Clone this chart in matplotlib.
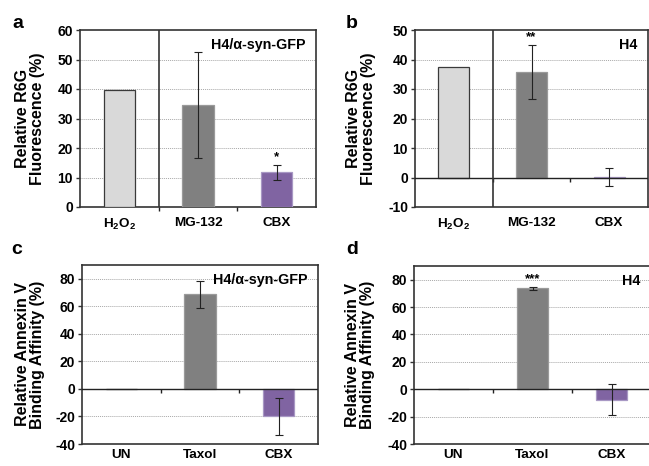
import matplotlib
matplotlib.use('Agg')
import matplotlib.pyplot as plt

plt.rcParams['font.family'] = ['Liberation Sans', 'DejaVu Sans']
plt.rcParams['font.weight'] = 'bold'
plt.rcParams['mathtext.fontset'] = 'custom'
plt.rcParams['mathtext.rm'] = 'Liberation Sans:bold'
plt.rcParams['mathtext.bf'] = 'Liberation Sans:bold'
plt.rcParams['axes.unicode_minus'] = False

# panels a/b: R6G fluorescence
r6g_labels = [r'$\mathrm{H_2O_2}$', 'MG-132', 'CBX']
r6g_syn = [39.5, 34.7, 11.7]
r6g_syn_err = [0, 18.0, 2.6]
r6g_h4 = [37.5, 35.8, 0.2]
r6g_h4_err = [0, 9.2, 3.0]

# panels c/d: annexin V binding
anx_labels = ['UN', 'Taxol', 'CBX']
anx_syn = [0, 68.8, -20.0]
anx_syn_err = [0, 9.7, 13.5]
anx_h4 = [0, 73.8, -7.5]
anx_h4_err = [0, 1.0, 11.2]

colors = ['#D9D9D9', '#808080', '#8064A2']
edges = ['#3A3A3A', '#9A9A9A', '#A898C4']

W, H = 649, 466
fig = plt.figure(figsize=(W / 100, H / 100), dpi=100)


def px_axes(left, top, right, bottom):
    return fig.add_axes([left / W, 1 - bottom / H, (right - left) / W, (bottom - top) / H])


def panel(ax, labels, vals, errs, ylim, step, tag, letter, letter_xy, stars,
          divider, label_pad, ylabel, ylabel_x):
    x = range(len(vals))
    ax.bar(x, vals, width=0.4, color=colors, edgecolor=edges, linewidth=0.9, zorder=3)
    err_x = [i for i in x if errs[i] > 0]
    ax.errorbar(err_x, [vals[i] for i in err_x], yerr=[errs[i] for i in err_x],
                fmt='none', ecolor='#222222', elinewidth=0.8, capsize=3,
                capthick=0.8, zorder=4)
    ax.set_xlim(-0.5, 2.5)
    ax.set_ylim(*ylim)
    ticks = list(range(ylim[0], ylim[1] + 1, step))
    ax.set_yticks(ticks)
    for t in ticks:
        if ylim[0] < t < ylim[1] and t != 0:
            ax.axhline(t, color='#A8A8A8', linestyle=(0, (1, 1)), linewidth=0.7, zorder=1)
    if ylim[0] < 0:
        ax.axhline(0, color='#222222', linewidth=1.0, zorder=5)
    # small category-boundary ticks on the value-zero axis
    tick_len = 4 * (ylim[1] - ylim[0]) / (ax.get_position().height * H)
    ax.vlines([0.5, 1.5], 0, -tick_len, color='#222222', linewidth=1.0, zorder=5,
              clip_on=False)
    if divider:
        ax.axvline(0.5, color='#333333', linewidth=1.2, zorder=5)
    ax.set_xticks(list(x))
    ax.set_xticklabels(labels, fontsize=9.7, fontweight='bold')
    ax.tick_params(axis='x', length=0, pad=label_pad)
    ax.tick_params(axis='y', labelsize=10, length=3, width=1.0, color='#333333', pad=2)
    for lab in ax.get_yticklabels():
        lab.set_fontweight('bold')
    for s in ax.spines.values():
        s.set_color('#333333')
        s.set_linewidth(1.2)
    ax.set_ylabel(ylabel, fontsize=11.5, fontweight='bold', linespacing=1.0)
    ax.yaxis.set_label_coords(ylabel_x, 0.5)
    ax.text(0.955, 0.915, tag, transform=ax.transAxes, ha='right', va='center',
            fontsize=10.3, fontweight='bold')
    for i, s in stars:
        ax.annotate(s, (i, vals[i] + errs[i]), xytext=(0, 1), textcoords='offset points',
                    ha='center', va='bottom', fontsize=9.5, fontweight='bold')
    fig.text(letter_xy[0] / W, 1 - letter_xy[1] / H, letter, fontsize=14,
             fontweight='bold', ha='center', va='center')


ax_a = px_axes(80, 30, 316, 207)
ax_b = px_axes(415, 30, 648, 207)
ax_c = px_axes(82, 265, 318, 444)
ax_d = px_axes(414, 266, 651, 444)

panel(ax_a, r6g_labels, r6g_syn, r6g_syn_err, (0, 60), 10, r'H4/α-syn-GFP', 'a',
      (18, 23), [(2, '*')], True, 7, 'Relative R6G\nFluorescence (%)', -0.147)
panel(ax_b, r6g_labels, r6g_h4, r6g_h4_err, (-10, 50), 10, 'H4', 'b',
      (352, 23), [(1, '**')], True, 7, 'Relative R6G\nFluorescence (%)', -0.167)
panel(ax_c, anx_labels, anx_syn, anx_syn_err, (-40, 90), 20, r'H4/α-syn-GFP', 'c',
      (17, 250), [], False, 3.5, 'Relative Annexin V\nBinding Affinity (%)', -0.157)
panel(ax_d, anx_labels, anx_h4, anx_h4_err, (-40, 90), 20, 'H4', 'd',
      (352, 250), [(1, '***')], False, 3.5, 'Relative Annexin V\nBinding Affinity (%)', -0.165)

fig.savefig('out.png', dpi=100)
